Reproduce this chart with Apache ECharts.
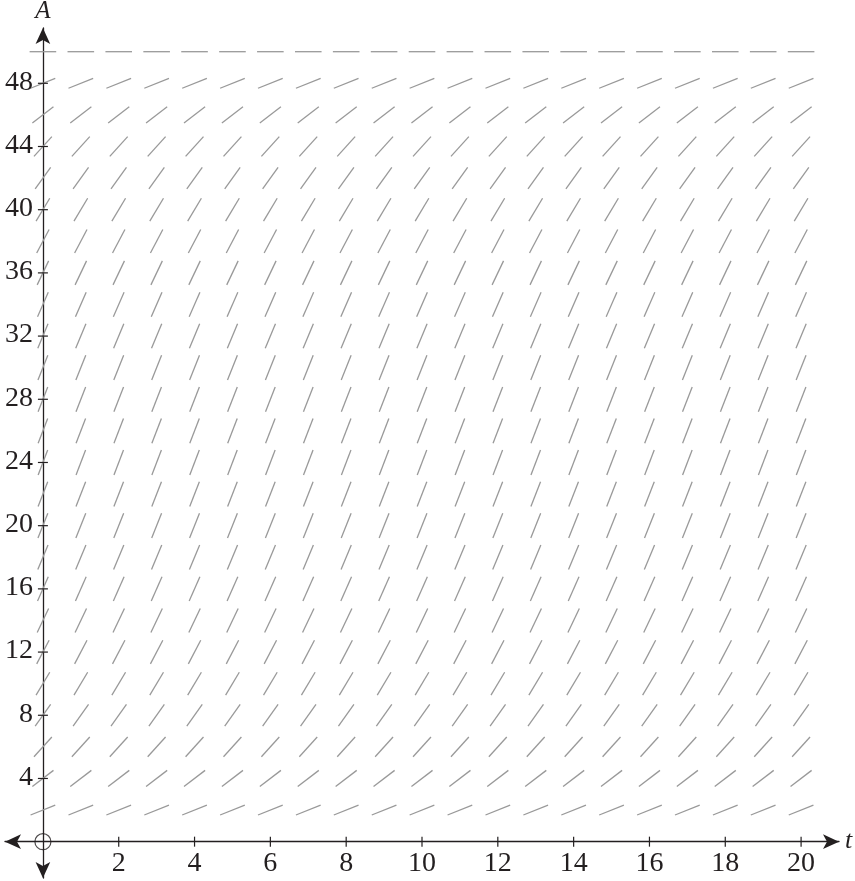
<!DOCTYPE html>
<html>
<head>
<meta charset="utf-8">
<script src="https://cdn.jsdelivr.net/npm/echarts@6/dist/echarts.min.js"></script>
<style>
html,body{margin:0;padding:0;background:#fff;}
#chart{width:855px;height:881px;}
</style>
</head>
<body>
<div id="chart"></div>
<script>
// t positions of the slope marks
var tValues = [0,1,2,3,4,5,6,7,8,9,10,11,12,13,14,15,16,17,18,19,20];
// A levels of the slope marks
var aLevels = [2,4,6,8,10,12,14,16,18,20,22,24,26,28,30,32,34,36,38,40,42,44,46,48,50];
// slope dA/dt read at each A level
var slopes = [0.96,1.84,2.64,3.36,4.0,4.56,5.04,5.44,5.76,6.0,6.16,6.24,6.24,6.16,6.0,5.76,5.44,5.04,4.56,4.0,3.36,2.64,1.84,0.96,0];
// tick labels
var xTicks = [2,4,6,8,10,12,14,16,18,20];
var yTicks = [4,8,12,16,20,24,28,32,36,40,44,48];

var fieldData = [];
tValues.forEach(function(t){
  aLevels.forEach(function(a, i){ fieldData.push([t, a, slopes[i]]); });
});

var FONT = 'Liberation Serif';
var AXIS_COLOR = '#231f20';
var LABEL_SIZE = 28;

var chart = echarts.init(document.getElementById('chart'), null, {renderer:'canvas'});
chart.setOption({
  animation:false,
  backgroundColor:'#ffffff',
  grid:{left:5, top:28, width:834, height:850, containLabel:false, outerBoundsMode:'none'},
  xAxis:{
    type:'value', min:-1, max:21,
    axisLine:{show:true, onZero:true, symbol:['arrow','arrow'], symbolSize:[11,16], lineStyle:{color:AXIS_COLOR, width:1.3}},
    axisTick:{show:false},
    splitLine:{show:false},
    axisLabel:{show:false},
    name:'t', nameLocation:'end', nameGap:6,
    nameTextStyle:{fontFamily:FONT, fontStyle:'italic', fontSize:26, color:'#231f20', verticalAlign:'middle'}
  },
  yAxis:{
    type:'value', min:-2.3, max:51.5,
    axisLine:{show:true, onZero:true, symbol:['arrow','arrow'], symbolSize:[11,16], lineStyle:{color:AXIS_COLOR, width:1.3}},
    axisTick:{show:false},
    splitLine:{show:false},
    axisLabel:{show:false},
    name:'A', nameLocation:'end', nameGap:4,
    nameTextStyle:{fontFamily:FONT, fontStyle:'italic', fontSize:25, color:'#231f20', align:'center'}
  },
  series:[
    {
      type:'custom',
      data:fieldData,
      silent:true,
      z:2,
      renderItem:function(params, api){
        var t = api.value(0), a = api.value(1), s = api.value(2);
        var c = api.coord([t, a]);
        var c2 = api.coord([t + 1, a + s]);
        var dx = c2[0] - c[0], dy = c2[1] - c[1];
        var len = Math.sqrt(dx*dx + dy*dy);
        dx /= len; dy /= len;
        var h = 13.3;
        return {type:'line', shape:{x1:c[0]-dx*h, y1:c[1]-dy*h, x2:c[0]+dx*h, y2:c[1]+dy*h},
          style:{stroke:'#999999', lineWidth:1.3}};
      }
    },
    {
      type:'custom',
      data:xTicks.map(function(v){return [v, 0];}),
      silent:true,
      z:3,
      renderItem:function(params, api){
        var v = api.value(0);
        var c = api.coord([v, api.value(1)]);
        return {type:'group', children:[
          {type:'line', shape:{x1:c[0], y1:c[1]-5, x2:c[0], y2:c[1]+5}, style:{stroke:AXIS_COLOR, lineWidth:1.2}},
          {type:'text', x:c[0], y:c[1]+22, style:{text:String(v), fontFamily:FONT, fontSize:LABEL_SIZE, fill:'#231f20', align:'center', verticalAlign:'middle'}}
        ]};
      }
    },
    {
      type:'custom',
      data:yTicks.map(function(v){return [0, v];}),
      silent:true,
      z:3,
      renderItem:function(params, api){
        var v = api.value(1);
        var c = api.coord([api.value(0), v]);
        return {type:'group', children:[
          {type:'line', shape:{x1:c[0]-5, y1:c[1], x2:c[0]+5, y2:c[1]}, style:{stroke:AXIS_COLOR, lineWidth:1.2}},
          {type:'text', x:c[0]-10, y:c[1]-1, style:{text:String(v), fontFamily:FONT, fontSize:LABEL_SIZE, fill:'#231f20', align:'right', verticalAlign:'middle'}}
        ]};
      }
    },
    {
      type:'scatter',
      data:[[0,0]],
      symbol:'circle',
      symbolSize:16,
      silent:true,
      z:4,
      itemStyle:{color:'rgba(0,0,0,0)', borderColor:AXIS_COLOR, borderWidth:1.2}
    }
  ]
});
</script>
</body>
</html>
